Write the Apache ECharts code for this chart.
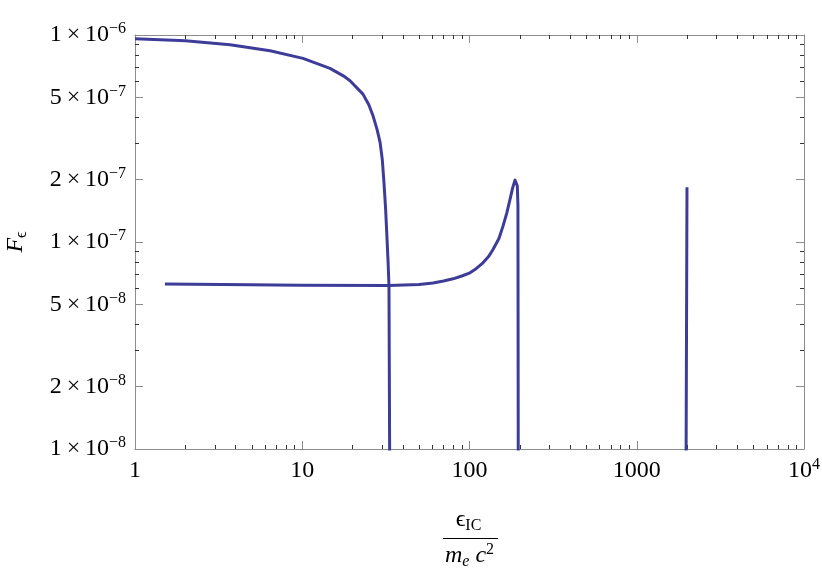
<!DOCTYPE html>
<html>
<head>
<meta charset="utf-8">
<title>F_e vs e_IC</title>
<script src="https://cdn.jsdelivr.net/npm/echarts@6.0.0/dist/echarts.min.js"></script>
<style>
  html, body { margin: 0; padding: 0; background: #fff; }
  #chart { width: 822px; height: 580px; }
</style>
</head>
<body>
<div id="chart"></div>
<script>
  // values
  var curve1X = [1, 2, 3.7, 6.42, 10.1, 14.65, 17.6, 19.3, 23.07, 25.0, 26.5, 28.0, 29.2, 30.1, 30.8, 31.5, 32.0, 32.6, 33.0, 33.3, 33.4];
  var curve1Y = [9.6e-7, 9.38e-7, 8.98e-7, 8.39e-7, 7.71e-7, 6.9e-7, 6.35e-7, 6.01e-7, 5.18e-7, 4.6e-7, 4.07e-7, 3.5e-7, 3.03e-7, 2.5e-7, 1.94e-7, 1.45e-7, 1.11e-7, 8.0e-8, 6.16e-8, 1.0e-8, 5e-9];

  var curve2X = [1.51, 4.87, 9.69, 33.0, 50.0, 60.5, 70.0, 79.7, 90.0, 100.7, 110.0, 120.4, 130.0, 138.2, 150.0, 158.6, 167.0, 174.7, 181.0, 187.1, 190.5, 193.2, 194.8, 195.6, 196.0];
  var curve2Y = [6.26e-8, 6.22e-8, 6.18e-8, 6.16e-8, 6.24e-8, 6.34e-8, 6.48e-8, 6.64e-8, 6.85e-8, 7.10e-8, 7.45e-8, 7.93e-8, 8.5e-8, 9.20e-8, 1.04e-7, 1.193e-7, 1.38e-7, 1.607e-7, 1.82e-7, 1.991e-7, 1.98e-7, 1.863e-7, 1.5e-7, 1.0e-8, 5e-9];

  var curve3X = [1965, 1975, 1997];
  var curve3Y = [5e-9, 1.2e-8, 1.84e-7];

  var xTicks = [1, 10, 100, 1000, 10000];
  var xTickLabels = ['1', '10', '100', '1000', '10^4'];
  var xMinorTicks = [2, 3, 4, 5, 6, 7, 8, 9, 20, 30, 40, 50, 60, 70, 80, 90,
    200, 300, 400, 500, 600, 700, 800, 900, 2000, 3000, 4000, 5000, 6000, 7000, 8000, 9000];

  var yTicks = [1e-8, 2e-8, 5e-8, 1e-7, 2e-7, 5e-7, 1e-6];
  var yTickLabels = ['1×10^−8', '2×10^−8', '5×10^−8', '1×10^−7', '2×10^−7', '5×10^−7', '1×10^−6'];
  var yMinorTicks = [3e-8, 4e-8, 6e-8, 7e-8, 8e-8, 9e-8, 3e-7, 4e-7, 6e-7, 7e-7, 8e-7, 9e-7];

  var serif = "'Liberation Serif', 'DejaVu Serif', serif";
  var lineColor = '#3d3d99';
  var frameColor = '#8c8c8c';

  var rich = {
    b: {fontFamily: serif, fontSize: 24, lineHeight: 28, color: '#000'},
    s: {fontFamily: serif, fontSize: 16, lineHeight: 16, verticalAlign: 'top', color: '#000'}
  };

  function toRich(text) {
    var parts = text.replace('×', '\u2009×\u2009').split('^');
    var out = '{b|' + parts[0] + '}';
    if (parts[1]) out += '{s|' + parts[1] + '}';
    return out;
  }

  function lookup(value, ticks, labels) {
    for (var i = 0; i < ticks.length; i++) {
      if (Math.abs(Math.log10(value) - Math.log10(ticks[i])) < 1e-6) return toRich(labels[i]);
    }
    return '';
  }

  function pairs(xs, ys) {
    return xs.map(function (x, i) { return [x, ys[i]]; });
  }

  function xAxisOf(position, major, labels) {
    return {
      type: 'log', logBase: 10, min: 1, max: 10000, position: position,
      axisLine: {show: major, onZero: false, lineStyle: {color: frameColor, width: 1}},
      axisTick: {show: true, inside: true, length: major ? 8 : 4, customValues: major ? xTicks : xMinorTicks,
        lineStyle: {color: major ? frameColor : '#333', width: 1}},
      axisLabel: labels ? {show: true, customValues: xTicks, margin: 8, rich: rich,
        formatter: function (v) { return lookup(v, xTicks, xTickLabels); }} : {show: false},
      splitLine: {show: false}
    };
  }

  function yAxisOf(position, major, labels) {
    var ax = {
      type: 'log', logBase: 10, min: 1e-8, max: 1e-6, position: position,
      axisLine: {show: major, onZero: false, lineStyle: {color: frameColor, width: 1}},
      axisTick: {show: true, inside: true, length: major ? 8 : 4, customValues: major ? yTicks : yMinorTicks,
        lineStyle: {color: major ? frameColor : '#333', width: 1}},
      axisLabel: labels ? {show: true, customValues: yTicks, margin: 9, rich: rich,
        formatter: function (v) { return lookup(v, yTicks, yTickLabels); }} : {show: false},
      splitLine: {show: false}
    };
    if (labels) {
      ax.name = '{i|F}{sub|ϵ}';
      ax.nameLocation = 'middle';
      ax.nameRotate = 90;
      ax.nameGap = 105;
      ax.nameTextStyle = {
        rich: {
          i: {fontFamily: serif, fontStyle: 'italic', fontSize: 24, lineHeight: 28, color: '#000'},
          sub: {fontFamily: serif, fontSize: 16, lineHeight: 16, verticalAlign: 'bottom', color: '#000'}
        }
      };
    }
    return ax;
  }

  var mid = (135 + 804) / 2;

  var myChart = echarts.init(document.getElementById('chart'));

  var option = {
    animation: false,
    grid: {left: 135, right: 18, top: 35, bottom: 131, containLabel: false, outerBoundsMode: 'none'},
    xAxis: [
      xAxisOf('bottom', true, true),
      xAxisOf('bottom', false, false),
      xAxisOf('top', true, false),
      xAxisOf('top', false, false)
    ],
    yAxis: [
      yAxisOf('left', true, true),
      yAxisOf('left', false, false),
      yAxisOf('right', true, false),
      yAxisOf('right', false, false)
    ],
    graphic: [
      {
        type: 'text', x: mid - 1, y: 520,
        style: {
          text: '{e|ϵ}{sub|IC}', align: 'center', verticalAlign: 'middle',
          rich: {
            e: {fontFamily: serif, fontSize: 24, lineHeight: 28, fill: '#000'},
            sub: {fontFamily: serif, fontSize: 16, lineHeight: 16, verticalAlign: 'bottom', fill: '#000'}
          }
        }
      },
      {
        type: 'line', shape: {x1: 443, y1: 538.5, x2: 498, y2: 538.5},
        style: {stroke: '#000', lineWidth: 1}
      },
      {
        type: 'text', x: mid, y: 556,
        style: {
          text: '{m|m}{sub|e}{m| c}{sup|2}', align: 'center', verticalAlign: 'middle',
          rich: {
            m: {fontFamily: serif, fontStyle: 'italic', fontSize: 24, lineHeight: 28, fill: '#000'},
            sub: {fontFamily: serif, fontStyle: 'italic', fontSize: 16, lineHeight: 16, verticalAlign: 'bottom', fill: '#000'},
            sup: {fontFamily: serif, fontSize: 16, lineHeight: 16, verticalAlign: 'top', fill: '#000'}
          }
        }
      }
    ],
    series: [
      {type: 'line', data: pairs(curve1X, curve1Y), showSymbol: false,
        lineStyle: {color: lineColor, width: 3, join: 'round'}, itemStyle: {color: lineColor}},
      {type: 'line', data: pairs(curve2X, curve2Y), showSymbol: false,
        lineStyle: {color: lineColor, width: 3, join: 'round'}, itemStyle: {color: lineColor}},
      {type: 'line', data: pairs(curve3X, curve3Y), showSymbol: false,
        lineStyle: {color: lineColor, width: 3}, itemStyle: {color: lineColor}}
    ]
  };

  myChart.setOption(option);
</script>
</body>
</html>
